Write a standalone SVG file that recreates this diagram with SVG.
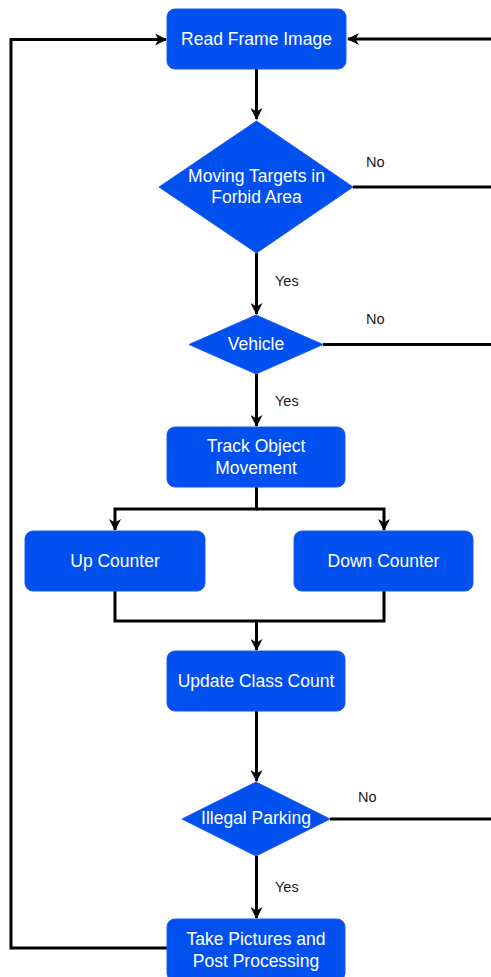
<svg xmlns="http://www.w3.org/2000/svg" width="491" height="977" viewBox="0 0 491 977">
<style>
.node{fill:#0050ef;stroke:#1a5cf0;stroke-width:1}
.t{font-family:"Liberation Sans",Arial,sans-serif;font-size:17.5px;fill:#ffffff;text-anchor:middle}
.lbl{font-family:"Liberation Sans",Arial,sans-serif;font-size:14.5px;fill:#1a1a1a}
.c{fill:none;stroke:#000000;stroke-width:3}
</style>
<defs>
<marker id="ah" viewBox="0 0 12 12" refX="11" refY="6" markerWidth="12" markerHeight="12" markerUnits="userSpaceOnUse" orient="auto">
<path d="M0,0 L12,6 L0,12 L3.5,6 z" fill="#000000"/>
</marker>
</defs>
<rect width="491" height="977" fill="#ffffff"/>
<g id="connectors">
<path class="c" d="M256.5,69 V119" marker-end="url(#ah)"/>
<path class="c" d="M256.5,253 V314" marker-end="url(#ah)"/>
<path class="c" d="M256.5,374 V426" marker-end="url(#ah)"/>
<path class="c" d="M256.5,487 V509 H115 V530" marker-end="url(#ah)"/>
<path class="c" d="M256.5,509 H384 V530" marker-end="url(#ah)"/>
<path class="c" d="M115,591 V621 H384 V591"/>
<path class="c" d="M256.5,621 V650" marker-end="url(#ah)"/>
<path class="c" d="M256.5,711 V781" marker-end="url(#ah)"/>
<path class="c" d="M256.5,856 V918" marker-end="url(#ah)"/>
<path class="c" d="M353,187 H496 V39 H348" marker-end="url(#ah)"/>
<path class="c" d="M323,344.5 H496"/>
<path class="c" d="M330,819 H496"/>
<path class="c" d="M167,948 H11 V39.5 H166" marker-end="url(#ah)"/>
<text class="lbl" x="366" y="167">No</text>
<text class="lbl" x="275" y="286">Yes</text>
<text class="lbl" x="366" y="324">No</text>
<text class="lbl" x="275" y="406">Yes</text>
<text class="lbl" x="358" y="802">No</text>
<text class="lbl" x="275" y="892">Yes</text>
</g>
<g id="read-frame">
<rect class="node" x="167" y="9" width="179" height="60" rx="8"/>
<text class="t" x="256.5" y="45">Read Frame Image</text>
</g>
<g id="moving-targets">
<polygon class="node" points="256.5,121 353,187 256.5,253 159,187"/>
<text class="t" x="256.5" y="182">Moving Targets in</text>
<text class="t" x="256.5" y="203">Forbid Area</text>
</g>
<g id="vehicle">
<polygon class="node" points="256,315 323,344.5 256,374 189,344.5"/>
<text class="t" x="256" y="349.5">Vehicle</text>
</g>
<g id="track">
<rect class="node" x="167" y="427" width="178" height="60" rx="8"/>
<text class="t" x="256" y="452">Track Object</text>
<text class="t" x="256" y="473.5">Movement</text>
</g>
<g id="up-counter">
<rect class="node" x="25" y="531" width="180" height="60" rx="8"/>
<text class="t" x="115" y="567">Up Counter</text>
</g>
<g id="down-counter">
<rect class="node" x="294" y="531" width="179" height="60" rx="8"/>
<text class="t" x="383.5" y="567">Down Counter</text>
</g>
<g id="update">
<rect class="node" x="167" y="651" width="178" height="60" rx="8"/>
<text class="t" x="256" y="687">Update Class Count</text>
</g>
<g id="illegal-parking">
<polygon class="node" points="256,782 330,819 256,856 182,819"/>
<text class="t" x="256" y="823.5">Illegal Parking</text>
</g>
<g id="take-pictures">
<rect class="node" x="167" y="919" width="178" height="62" rx="8"/>
<text class="t" x="256" y="945">Take Pictures and</text>
<text class="t" x="256" y="967">Post Processing</text>
</g>
</svg>
